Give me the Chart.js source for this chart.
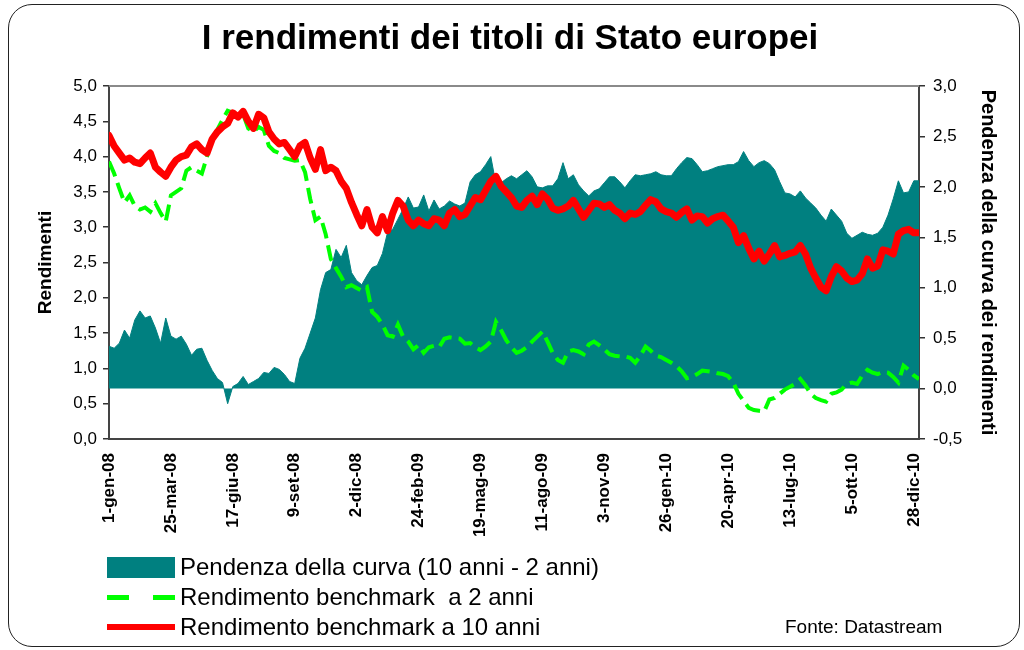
<!DOCTYPE html>
<html><head><meta charset="utf-8">
<script src="https://cdn.jsdelivr.net/npm/chart.js@4.4.0/dist/chart.umd.min.js"></script>
<style>
body{margin:0;background:#fff;width:1024px;height:650px;overflow:hidden;font-family:"Liberation Sans",Arial,sans-serif;}
#wrap{position:relative;width:1024px;height:650px;}
#frame{position:absolute;left:8px;top:4px;width:1012px;height:643px;border:1px solid #222;border-radius:24px;box-sizing:border-box;}
canvas{position:absolute;left:0;top:0;}
.t{position:absolute;white-space:nowrap;color:#000;}
.sw{position:absolute;}
</style></head><body>
<div id="wrap">
<div id="frame"></div>
<canvas id="c" width="1024" height="650"></canvas>
<div class="t" style="left:0;width:1020px;text-align:center;top:15px;font-size:35px;font-weight:bold;line-height:44px;">I rendimenti dei titoli di Stato europei</div>
<div class="sw" style="left:107px;top:557px;width:68px;height:21px;background:#008080;"></div>
<div class="sw" style="left:107px;top:595px;width:22px;height:5px;background:#00ff00;"></div>
<div class="sw" style="left:153px;top:595px;width:22px;height:5px;background:#00ff00;"></div>
<div class="sw" style="left:107px;top:624px;width:68px;height:6px;background:#ff0000;"></div>
<div class="t" style="left:180px;top:553px;font-size:24px;line-height:28px;">Pendenza della curva (10 anni - 2 anni)</div>
<div class="t" style="left:180px;top:583px;font-size:24px;line-height:28px;">Rendimento benchmark &nbsp;a 2 anni</div>
<div class="t" style="left:180px;top:613px;font-size:24px;line-height:28px;">Rendimento benchmark a 10 anni</div>
<div class="t" style="left:785px;top:616px;font-size:19px;line-height:22px;">Fonte: Datastream</div>
</div>
<script>
// weekly observations, week 0 = 1-gen-08
const tickWeeks = [0,12,24,36,48,60,72,84,96,108,120,132,144,156];
const tickLabels = ['1-gen-08','25-mar-08','17-giu-08','9-set-08','2-dic-08','24-feb-09','19-mag-09','11-ago-09','3-nov-09','26-gen-10','20-apr-10','13-lug-10','5-ott-10','28-dic-10'];
const leftTicks = [0,0.5,1,1.5,2,2.5,3,3.5,4,4.5,5];
const rightTicks = [-0.5,0,0.5,1,1.5,2,2.5,3];

const yield10 = [4.30,4.15,4.05,3.95,3.98,3.92,3.90,3.98,4.05,3.85,
3.78,3.72,3.85,3.95,4.00,4.02,4.14,4.18,4.10,4.05,
4.25,4.35,4.42,4.47,4.62,4.56,4.64,4.50,4.40,4.60,
4.55,4.35,4.25,4.18,4.20,4.10,4.00,4.15,4.20,3.98,
3.82,4.10,3.80,3.85,3.80,3.65,3.55,3.35,3.18,3.02,
3.25,3.00,2.92,3.15,2.95,3.20,3.38,3.30,3.10,3.02,
3.10,3.05,3.02,3.12,3.10,3.02,3.20,3.25,3.15,3.18,
3.30,3.42,3.39,3.52,3.65,3.72,3.58,3.50,3.42,3.30,
3.28,3.38,3.44,3.32,3.47,3.40,3.27,3.24,3.26,3.30,
3.38,3.26,3.14,3.24,3.34,3.33,3.28,3.32,3.24,3.20,
3.12,3.20,3.18,3.22,3.31,3.39,3.36,3.26,3.22,3.20,
3.14,3.21,3.26,3.10,3.16,3.15,3.06,3.12,3.15,3.17,
3.09,3.00,2.78,2.88,2.70,2.55,2.66,2.52,2.62,2.74,
2.58,2.60,2.63,2.65,2.74,2.62,2.42,2.28,2.15,2.10,
2.30,2.44,2.38,2.28,2.23,2.25,2.34,2.55,2.42,2.45,
2.68,2.66,2.62,2.90,2.95,2.97,2.92,2.92];

const yield2 = [3.93,3.76,3.55,3.35,3.45,3.30,3.25,3.28,3.22,3.34,
3.20,3.08,3.45,3.50,3.55,3.80,3.85,3.80,3.76,4.00,
4.25,4.38,4.52,4.65,4.62,4.58,4.60,4.40,4.35,4.42,
4.38,4.15,4.08,4.05,3.98,3.96,3.94,3.95,3.78,3.40,
3.10,3.15,2.90,2.55,2.42,2.30,2.15,2.18,2.14,2.10,
2.15,1.80,1.73,1.62,1.47,1.45,1.62,1.45,1.38,1.27,
1.33,1.22,1.30,1.32,1.30,1.42,1.44,1.43,1.42,1.35,
1.36,1.30,1.26,1.31,1.38,1.66,1.54,1.40,1.30,1.22,
1.25,1.30,1.38,1.45,1.52,1.38,1.22,1.12,1.08,1.24,
1.26,1.24,1.20,1.34,1.38,1.33,1.27,1.20,1.18,1.17,
1.17,1.15,1.08,1.18,1.31,1.25,1.18,1.16,1.12,1.08,
1.03,0.96,0.86,0.88,0.92,0.97,0.96,0.95,0.93,0.92,
0.89,0.80,0.64,0.54,0.44,0.41,0.40,0.39,0.56,0.58,
0.64,0.70,0.74,0.78,0.85,0.76,0.64,0.58,0.55,0.53,
0.64,0.66,0.70,0.78,0.80,0.78,0.90,0.98,0.94,0.92,
0.95,0.94,0.88,0.80,1.04,0.98,0.90,0.85];

const slope = [0.42,0.40,0.45,0.58,0.50,0.68,0.77,0.70,0.72,0.60,
0.45,0.70,0.52,0.49,0.52,0.44,0.33,0.39,0.40,0.28,
0.18,0.10,0.06,-0.15,0.02,0.05,0.12,0.04,0.07,0.10,
0.16,0.15,0.21,0.19,0.14,0.07,0.05,0.30,0.40,0.55,
0.70,0.98,1.15,1.18,1.38,1.30,1.42,1.15,1.07,1.03,
1.12,1.20,1.22,1.34,1.55,1.58,1.68,1.78,1.90,1.79,
1.80,1.92,1.76,1.87,1.78,1.81,1.86,1.83,1.81,1.84,
2.05,2.12,2.15,2.22,2.30,2.03,2.04,2.08,2.11,2.08,
2.12,2.16,2.10,2.00,1.99,2.01,2.01,2.08,2.24,2.08,
2.12,2.02,1.96,1.91,1.96,1.98,2.04,2.10,2.10,2.05,
1.99,2.06,2.12,2.11,2.12,2.13,2.15,2.12,2.11,2.11,
2.18,2.24,2.29,2.28,2.22,2.15,2.16,2.18,2.20,2.21,
2.22,2.22,2.25,2.35,2.26,2.20,2.24,2.26,2.23,2.17,
2.05,1.94,1.93,1.90,1.96,1.89,1.84,1.79,1.72,1.66,
1.78,1.72,1.66,1.54,1.49,1.52,1.55,1.53,1.52,1.54,
1.60,1.72,1.88,2.06,1.94,1.95,2.06,2.06];

const FAM = '"Liberation Sans", Arial, sans-serif';
const toXY = arr => arr.map((v,i)=>({x:i,y:v}));
const fmt = v => v.toFixed(1).replace('.', ',');

const topLine = {id:'topLine', afterDraw(chart){
  const {ctx, chartArea:{left,right,top}} = chart;
  ctx.save(); ctx.strokeStyle='#8a8a8a'; ctx.lineWidth=2;
  ctx.beginPath(); ctx.moveTo(left,top); ctx.lineTo(right,top); ctx.stroke(); ctx.restore();
}};

new Chart(document.getElementById('c'), {
  type:'line',
  data:{datasets:[
    {label:'Rendimento benchmark a 10 anni', data:toXY(yield10), yAxisID:'y', borderColor:'#ff0000', borderWidth:7, pointRadius:0, borderJoinStyle:'round', borderCapStyle:'round', fill:false, order:0},
    {label:'Rendimento benchmark  a 2 anni', data:toXY(yield2), yAxisID:'y', borderColor:'#00ff00', borderWidth:4, borderDash:[16,7], pointRadius:0, fill:false, order:1},
    {label:'Pendenza della curva (10 anni - 2 anni)', data:toXY(slope), yAxisID:'y1', borderColor:'#008080', backgroundColor:'#008080', borderWidth:1, pointRadius:0, fill:{value:0}, order:2}
  ]},
  options:{
    responsive:false, devicePixelRatio:1, animation:false,
    layout:{padding:{top:86,left:0,right:0,bottom:0}},
    plugins:{legend:{display:false}, tooltip:{enabled:false}},
    scales:{
      x:{type:'linear', min:0, max:157,
        afterBuildTicks:s=>{ s.ticks = tickWeeks.map(v=>({value:v})); },
        ticks:{autoSkip:false, minRotation:90, maxRotation:90, padding:14, color:'#000', font:{family:FAM,size:17,weight:'bold'}, callback:(v,i)=>tickLabels[i]},
        grid:{display:false, drawTicks:false},
        border:{display:true, color:'#444', width:2},
        afterFit:s=>{ s.height = 211; }
      },
      y:{position:'left', min:0, max:5,
        afterBuildTicks:s=>{ s.ticks = leftTicks.map(v=>({value:v})); },
        ticks:{padding:6, color:'#000', font:{family:FAM,size:17}, callback:v=>fmt(v)},
        grid:{drawOnChartArea:false, drawTicks:true, tickLength:6, color:'#333', lineWidth:1.5},
        border:{display:true, color:'#444', width:2},
        title:{display:true, text:'Rendimenti', color:'#000', font:{family:FAM,size:19,weight:'bold'}, padding:{top:34,bottom:0}},
        afterFit:s=>{ s.width = 109; }
      },
      y1:{position:'right', min:-0.5, max:3,
        afterBuildTicks:s=>{ s.ticks = rightTicks.map(v=>({value:v})); },
        ticks:{padding:8, color:'#000', font:{family:FAM,size:17}, callback:v=>fmt(v)},
        grid:{drawOnChartArea:false, drawTicks:true, tickLength:6, color:'#333', lineWidth:1.5},
        border:{display:true, color:'#444', width:2},
        title:{display:true, text:'Pendenza della curva dei rendimenti', color:'#000', font:{family:FAM,size:20,weight:'bold'}, padding:{top:24,bottom:0}},
        afterFit:s=>{ s.width = 105; }
      }
    }
  },
  plugins:[topLine]
});
</script>
</body></html>
